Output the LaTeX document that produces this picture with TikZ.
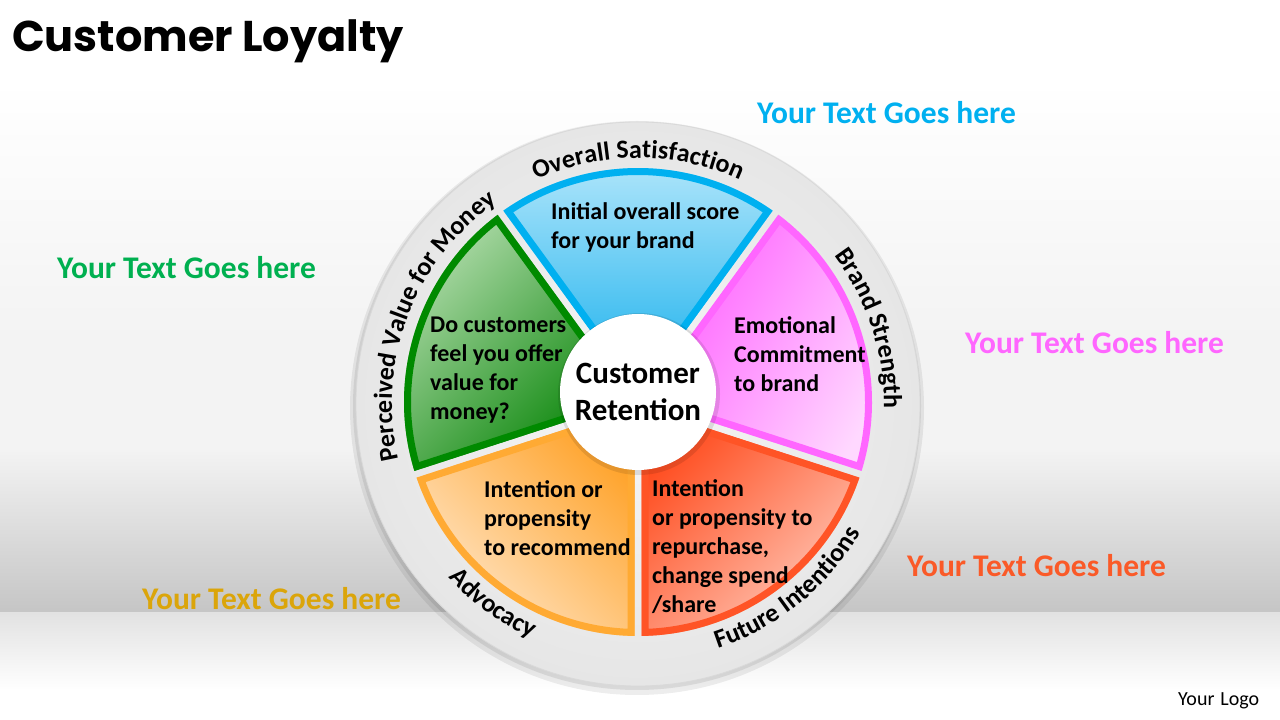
\documentclass[tikz,border=0pt]{standalone}
\usepackage{fontspec}
\setmainfont{Carlito}
\newfontfamily\titlefont{Poppins}
\usetikzlibrary{decorations.text}
\definecolor{bgA}{HTML}{F3F3F3}
\definecolor{bgB}{HTML}{C5C5C5}
\definecolor{bgC}{HTML}{E2E2E2}
\definecolor{ringI}{HTML}{F6F6F6}
\definecolor{ringO}{HTML}{E6E6E6}
\definecolor{blueL}{HTML}{B4E7FB}
\definecolor{blueM}{HTML}{45C3F3}
\definecolor{blueD}{HTML}{12AEEC}
\definecolor{blueB}{HTML}{00B0F0}
\definecolor{pinkL}{HTML}{FFD8FF}
\definecolor{pinkM}{HTML}{FF8AFF}
\definecolor{pinkD}{HTML}{FF5CFF}
\definecolor{pinkB}{HTML}{FF66FF}
\definecolor{redL}{HTML}{FFC8B8}
\definecolor{redM}{HTML}{FF7A58}
\definecolor{redD}{HTML}{FF4A1C}
\definecolor{redB}{HTML}{FF5426}
\definecolor{oraL}{HTML}{FFE6C8}
\definecolor{oraM}{HTML}{FFC070}
\definecolor{oraD}{HTML}{FFA228}
\definecolor{oraB}{HTML}{FFAA33}
\definecolor{grnL}{HTML}{B4DDAE}
\definecolor{grnM}{HTML}{34A034}
\definecolor{grnD}{HTML}{068406}
\definecolor{grnB}{HTML}{008A00}
\definecolor{cyanT}{HTML}{00B0F0}
\definecolor{greenT}{HTML}{00B050}
\definecolor{pinkT}{HTML}{FF66FF}
\definecolor{redT}{HTML}{FA5A28}
\definecolor{goldT}{HTML}{DBA50A}
\def\arcfont{\fontsize{26}{26}\selectfont\bfseries}
\begin{document}
\begin{tikzpicture}[x=1pt,y=1pt,
  wpath/.style 2 args={insert path={([shift={({(#1+#2)/2}:5.95pt)}]C) -- ([shift={(#1+0.857:234pt)}]C) arc[start angle=#1+0.857, end angle=#2-0.857, radius=234pt] -- cycle}},
  wtext/.style={anchor=base west, align=left, inner sep=0pt, font=\fontsize{24}{29}\selectfont\bfseries},
  sidetext/.style={anchor=base west, inner sep=0pt, font=\fontsize{31.5}{37}\selectfont\bfseries},
  arclabel/.style={decorate, decoration={text along path, text align=center, text={|\arcfont|#1}}}
]
\useasboundingbox (0,0) rectangle (1280,720);
% background
\fill[white] (0,0) rectangle (1280,720);
\shade[top color=white, bottom color=bgA] (0,380) rectangle (1280,640);
\fill[bgA] (0,270) rectangle (1280,380.5);
\shade[top color=bgA, bottom color=bgB] (0,107) rectangle (1280,270.5);
\shade[top color=bgC, bottom color=white] (0,30) rectangle (1280,107);

\coordinate (O) at (638,316);
\coordinate (C) at (638,318);
\coordinate (M) at (638,328);

% outer ring
\fill[black, opacity=0.07] ([shift={(-1,-4)}]O) circle[radius=287pt];
\fill[black, opacity=0.08] ([shift={(-1,-2)}]O) circle[radius=284pt];
\shade[inner color=ringI, outer color=ringO] (O) circle[radius=282pt];
\draw[black!15, line width=0.8pt] (O) circle[radius=282pt];

% wedges
\begin{scope}
\clip[wpath={54}{126}];
\shade[wpath={54}{126}, top color=blueL, middle color=blueM, bottom color=blueD, shading angle=0];
\draw[wpath={54}{126}, draw=blueB, line width=14pt];
\end{scope}
\begin{scope}
\clip[wpath={-18}{54}];
\shade[wpath={-18}{54}, top color=pinkL, middle color=pinkM, bottom color=pinkD, shading angle=-120];
\draw[wpath={-18}{54}, draw=pinkB, line width=14pt];
\end{scope}
\begin{scope}
\clip[wpath={270}{342}];
\shade[wpath={270}{342}, top color=redL, middle color=redM, bottom color=redD, shading angle=-135];
\draw[wpath={270}{342}, draw=redB, line width=14pt];
\end{scope}
\begin{scope}
\clip[wpath={198}{270}];
\shade[wpath={198}{270}, top color=oraL, middle color=oraM, bottom color=oraD, shading angle=135];
\draw[wpath={198}{270}, draw=oraB, line width=14pt];
\end{scope}
\begin{scope}
\clip[wpath={126}{198}];
\shade[wpath={126}{198}, top color=grnL, middle color=grnM, bottom color=grnD, shading angle=45];
\draw[wpath={126}{198}, draw=grnB, line width=14pt];
\end{scope}

% centre circle
\fill[black, opacity=0.10] ([shift={(1,-2)}]M) circle[radius=81pt];
\fill[white] (M) circle[radius=78pt];
\node[align=center, inner sep=0pt, font=\fontsize{31}{37}\selectfont\bfseries] (ctr) at (638,328.5) {Customer\\Retention};

% wedge texts (base = last line)
\node[wtext] (tblue) at (551,471) {Initial overall score\\for your brand};
\node[wtext] (tgreen) at (430,300) {Do customers\\feel you offer\\value for\\money?};
\node[wtext] (tpink) at (734,328) {Emotional\\Commitment\\to brand};
\node[wtext] (torange) at (484,164) {Intention or\\propensity\\to recommend};
\node[wtext] (tred) at (652,107) {Intention\\or propensity to\\repurchase,\\change spend\\/share};

% arc labels
\path[arclabel={Overall Satisfaction}] ([shift={(150:246pt)}]O) arc[start angle=150, end angle=30, radius=246pt];
\path[arclabel={Brand Strength}] ([shift={(78:246pt)}]O) arc[start angle=78, end angle=-42, radius=246pt];
\path[arclabel={Perceived Value for Money}] ([shift={(239:246pt)}]O) arc[start angle=239, end angle=79, radius=246pt];
\path[arclabel={Advocacy}] ([shift={(174:257pt)}]O) arc[start angle=174, end angle=294, radius=257pt];
\path[arclabel={Future Intentions}] ([shift={(-111:257pt)}]O) arc[start angle=-111, end angle=9, radius=257pt];

% side texts
\node[sidetext, text=cyanT] (s1) at (757,596) {Your Text Goes here};
\node[sidetext, text=greenT] (s2) at (57,441) {Your Text Goes here};
\node[sidetext, text=pinkT] (s3) at (965,366) {Your Text Goes here};
\node[sidetext, text=redT] (s4) at (907,143) {Your Text Goes here};
\node[sidetext, text=goldT] (s5) at (142,110) {Your Text Goes here};

% title and logo
\node[anchor=base west, inner sep=0pt, font=\titlefont\fontsize{43}{43}\selectfont\bfseries] (title) at (12,668) {Customer Loyalty};
\node[anchor=base west, inner sep=0pt, font=\fontsize{20}{24}\selectfont] (logo) at (1178,14) {Your\hspace{6pt}Logo};
\end{tikzpicture}
\end{document}
